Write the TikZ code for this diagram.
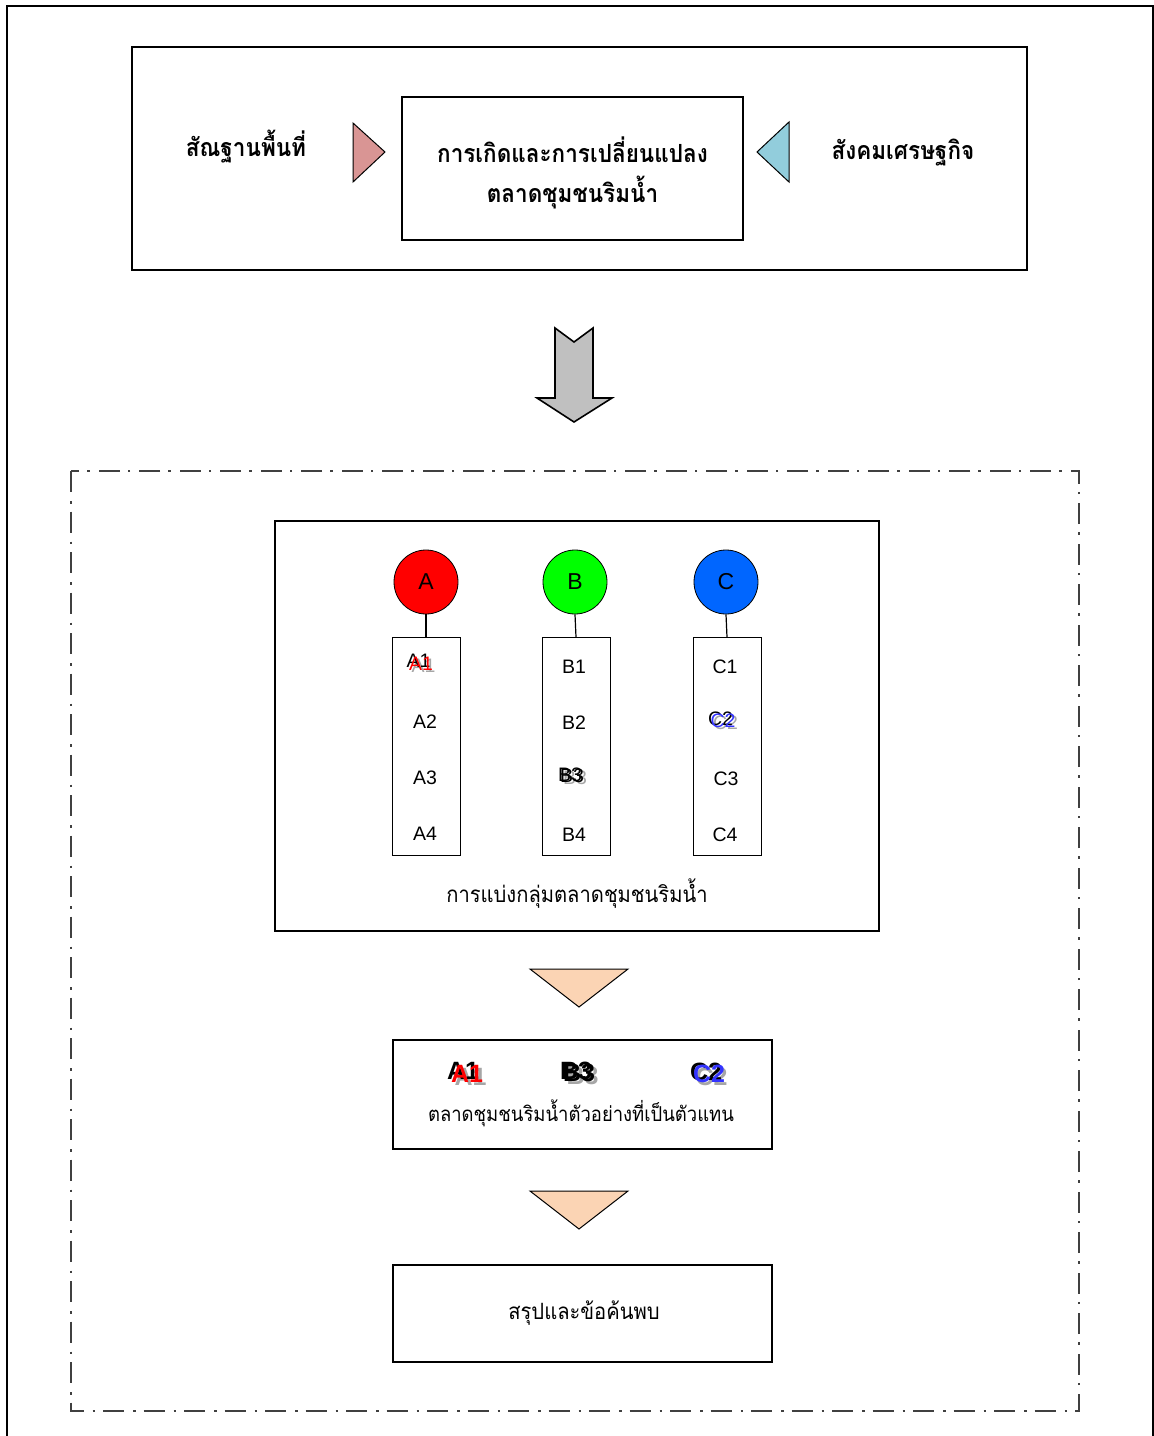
\documentclass[tikz,border=0pt]{standalone}
\usepackage{fontspec}
\setmainfont{Liberation Sans}
\newfontfamily\thai[Script=Thai, FakeStretch=0.9]{Loma}
\definecolor{pinktri}{HTML}{D99594}
\definecolor{bluetri}{HTML}{92CDDC}
\definecolor{peach}{HTML}{FBD4B4}
\definecolor{arrowgray}{HTML}{C0C0C0}
\definecolor{cblue}{HTML}{0066FF}
\definecolor{lblblue}{HTML}{3333FF}
\definecolor{frame}{HTML}{404040}
\begin{document}
\begin{tikzpicture}[x=1pt,y=-1pt,
  box/.style={draw, line width=1.6pt, inner sep=0pt},
  thaibold/.style={font=\thai\bfseries\fontsize{25}{40}\selectfont, inner sep=0pt, align=center},
  thaireg/.style={font=\thai\fontsize{22.4}{26}\selectfont, inner sep=0pt},
  lbl/.style={font=\fontsize{19.5}{22}\selectfont, inner sep=0pt},
  biglbl/.style={font=\bfseries\fontsize{25}{28}\selectfont, inner sep=0pt},
  ball/.style={circle, draw, line width=0.8pt, minimum size=64pt, inner sep=0pt, font=\fontsize{23}{26}\selectfont},
  column/.style={draw, line width=0.8pt, minimum width=68pt, minimum height=218pt, inner sep=0pt},
  stem/.style={line width=1.2pt},
  tri/.style={draw, line width=1pt, line join=miter},
  dashdot frame/.style={draw=frame, line width=2pt, dash pattern=on 21pt off 9pt on 2.5pt off 8pt}
]
\useasboundingbox (0,0) rectangle (1154,1436);
% outer frame
\draw[line width=2pt] (7,1460) -- (7,6) -- (1153,6) -- (1153,1460);

% top group
\node[box, minimum width=895pt, minimum height=223pt] (topbox) at (579.5,158.5) {};
\node[box, minimum width=341pt, minimum height=143pt] (core) at (572.5,168.5) {};
\node[thaibold] (coretxt) at (572.5,173) {การเกิดและการเปลี่ยนแปลง\\ตลาดชุมชนริมน้ำ};
\node[thaibold] (landform) at (246,147) {สัณฐานพื้นที่};
\node[thaibold] (socio) at (903,153) {สังคมเศรษฐกิจ};
\draw[tri, fill=pinktri] (353,123) -- (385,152) -- (353,182) -- cycle;
\draw[tri, fill=bluetri] (789,122) -- (757,152) -- (789,182) -- cycle;

% big gray arrow
\draw[line width=1.6pt, fill=arrowgray, line join=miter] (555,328) -- (574,342) -- (593,328) -- (593,398) -- (612,398) -- (574,422) -- (537,398) -- (555,398) -- cycle;

% dash-dot frame
\draw[dashdot frame] (71,471) rectangle (1079,1411);

% grouping box
\node[box, minimum width=604pt, minimum height=410pt] (groupbox) at (577,726) {};
\node[ball, fill=red] (ca) at (426,582) {A};
\node[ball, fill=green] (cb) at (575,582) {B};
\node[ball, fill=cblue] (cc) at (726,582) {C};
\node[column] (colA) at (426,746) {};
\node[column] (colB) at (576,746.5) {};
\node[column] (colC) at (727,746.5) {};
\draw[stem] (ca.south) -- (colA.north);
\draw[stem] (cb.south) -- (colB.north);
\draw[stem] (cc.south) -- (colC.north);

% column A labels
\node[lbl, text=gray!70] (a1s) at (423.5,666) {A1};
\node[lbl] (a1k) at (418.5,661) {A1};
\node[lbl, text=red] (a1) at (421,664) {A1};
\node[lbl] (a2) at (425,722) {A2};
\node[lbl] (a3) at (425,778) {A3};
\node[lbl] (a4) at (425,834) {A4};
% column B labels
\node[lbl] (b1) at (574,667) {B1};
\node[lbl] (b2) at (574,723) {B2};
\node[lbl, text=gray!70] (b3s) at (575,778) {B3};
\node[lbl] (b3k) at (570,775) {B3};
\node[lbl] (b3) at (572,776) {B3};
\node[lbl] (b4) at (574,835) {B4};
% column C labels
\node[lbl] (c1) at (725,667) {C1};
\node[lbl, text=gray!70] (c2s) at (725.5,723) {C2};
\node[lbl] (c2k) at (720.5,718.5) {C2};
\node[lbl, text=lblblue] (c2) at (723,721) {C2};
\node[lbl] (c3) at (726,779) {C3};
\node[lbl] (c4) at (725,835) {C4};

\node[thaireg] (grpcap) at (577,894) {การแบ่งกลุ่มตลาดชุมชนริมน้ำ};

% peach triangles
\draw[tri, fill=peach] (530,969) -- (628,969) -- (579,1007) -- cycle;
\draw[tri, fill=peach] (530,1191) -- (628,1191) -- (579,1229) -- cycle;

% representative box
\node[box, minimum width=379pt, minimum height=109pt] (repbox) at (582.5,1094.5) {};
\node[biglbl, text=gray!70] (ra1s) at (470.5,1076.5) {A1};
\node[biglbl] (ra1k) at (463,1071) {A1};
\node[biglbl, text=red] (ra1) at (467,1073.5) {A1};
\node[biglbl, text=gray!70] (rb3s) at (582.5,1075.5) {B3};
\node[biglbl] (rb3k) at (576,1071) {B3};
\node[biglbl] (rb3) at (579,1072.5) {B3};
\node[biglbl, text=gray!70] (rc2s) at (711.5,1076.5) {C2};
\node[biglbl] (rc2k) at (706,1072) {C2};
\node[biglbl, text=lblblue] (rc2) at (709,1073.5) {C2};
\node[thaireg, font=\thai\fontsize{20.5}{26}\selectfont] (reptxt) at (581,1113) {ตลาดชุมชนริมน้ำตัวอย่างที่เป็นตัวแทน};

% conclusion box
\node[box, minimum width=379pt, minimum height=97pt] (concl) at (582.5,1313.5) {};
\node[thaireg] (concltxt) at (584,1313) {สรุปและข้อค้นพบ};
\end{tikzpicture}
\end{document}
